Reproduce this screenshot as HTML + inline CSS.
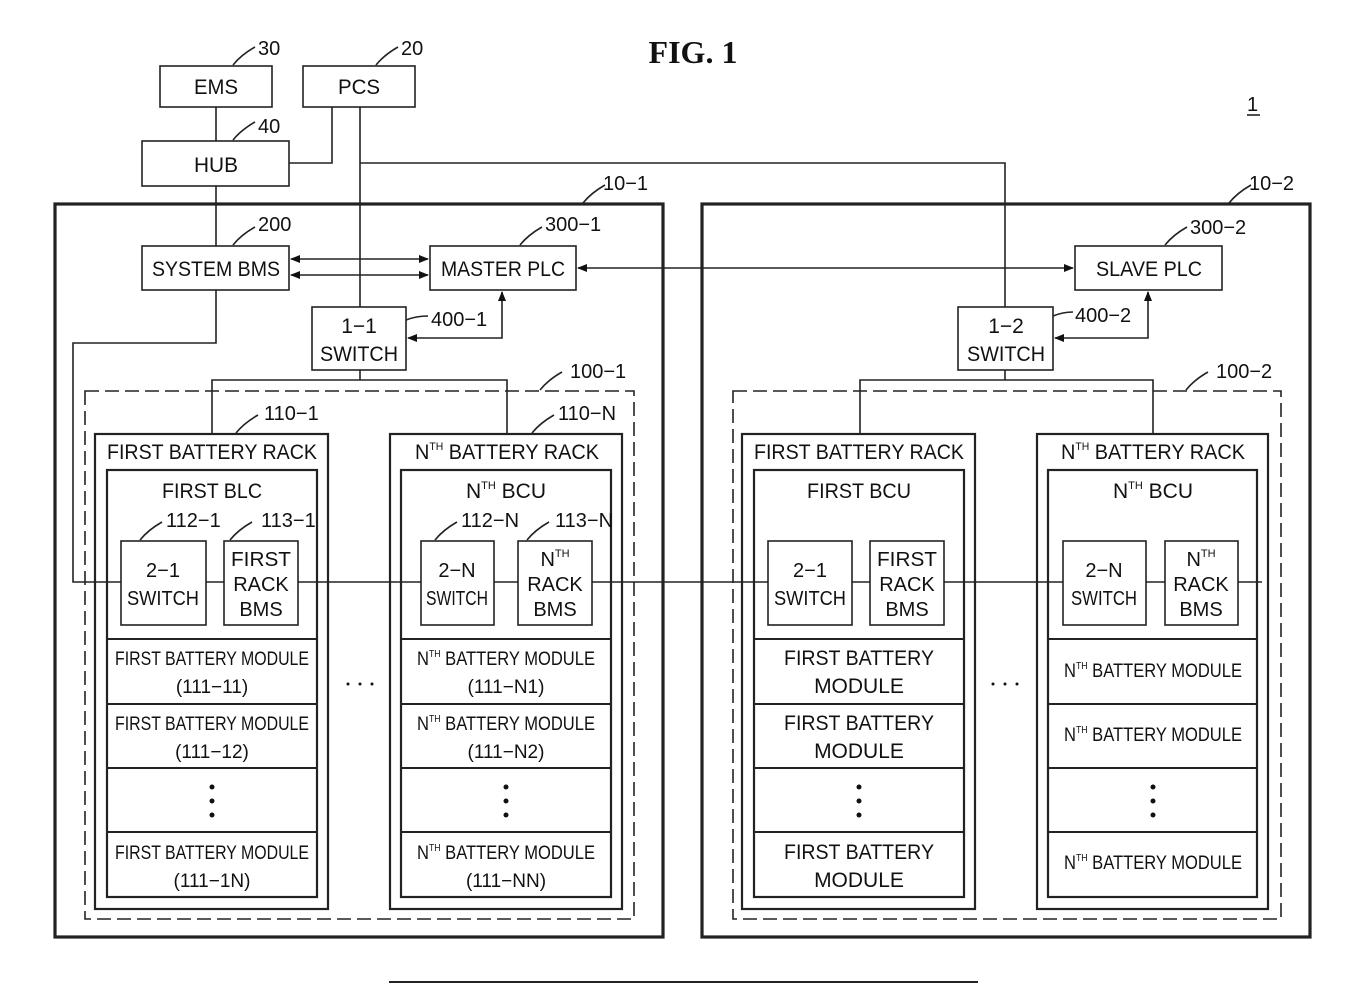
<!DOCTYPE html>
<html><head><meta charset="utf-8"><style>
html,body{margin:0;padding:0;background:#fff;}
svg{display:block;}
text{font-family:"Liberation Sans",sans-serif;fill:#111;}
</style></head><body>
<svg width="1369" height="997" viewBox="0 0 1369 997" xmlns="http://www.w3.org/2000/svg">
<defs>
<marker id="ah" markerWidth="10" markerHeight="8" refX="9" refY="4" orient="auto-start-reverse" markerUnits="userSpaceOnUse">
<path d="M0,0 L10,4 L0,8 Z" fill="#111"/></marker>
</defs>
<g stroke="#222" fill="none" stroke-width="1.6">
<rect x="160" y="66" width="112" height="41"/>
<rect x="303" y="66" width="112" height="41"/>
<rect x="142" y="141" width="147" height="45"/>
<line x1="216" y1="107" x2="216" y2="141"/>
<polyline points="332,107 332,163 289,163"/>
<line x1="360" y1="107" x2="360" y2="307"/>
<polyline points="360,163 1005,163 1005,307"/>
<line x1="216" y1="186" x2="216" y2="246"/>
<path d="M233,65 q8,-10 22,-18"/><path d="M376,65 q8,-10 22,-18"/>
<path d="M233,140 q8,-10 22,-18"/><path d="M233,245 q8,-10 22,-18"/>
<path d="M520,245 q8,-10 22,-18"/><path d="M1165,245 q8,-10 22,-18"/>
<path d="M583,203 q8,-10 22,-18"/><path d="M1229,203 q8,-10 22,-18"/>
<path d="M540,390 q8,-10 22,-18"/><path d="M1186,390 q8,-10 22,-18"/>
<path d="M236,433 q8,-10 22,-18"/><path d="M532,433 q8,-10 22,-18"/>
<path d="M140,540 q8,-10 22,-18"/><path d="M230,540 q8,-10 22,-18"/>
<path d="M435,540 q8,-10 22,-18"/><path d="M527,540 q8,-10 22,-18"/>
<path d="M406,320 q10,-4 22,-4"/><path d="M1053,316 q10,-4 20,-4"/>
<rect x="55" y="204" width="608" height="733" stroke-width="3.2"/>
<rect x="702" y="204" width="608" height="733" stroke-width="3.2"/>
<rect x="142" y="246" width="147" height="44"/>
<rect x="430" y="246" width="146" height="44"/>
<rect x="1075" y="246" width="147" height="44"/>
<line x1="291" y1="259" x2="428" y2="259" marker-start="url(#ah)" marker-end="url(#ah)"/>
<line x1="291" y1="275" x2="428" y2="275" marker-start="url(#ah)" marker-end="url(#ah)"/>
<line x1="578" y1="268" x2="1073" y2="268" marker-start="url(#ah)" marker-end="url(#ah)"/>
<rect x="312" y="307" width="94" height="63"/>
<rect x="958" y="307" width="95" height="63"/>
<polyline points="408,338 502,338 502,292" marker-start="url(#ah)" marker-end="url(#ah)"/>
<polyline points="1055,338 1148,338 1148,292" marker-start="url(#ah)" marker-end="url(#ah)"/>
<polyline points="216,290 216,343 73,343 73,582 1262,582"/>
<line x1="360" y1="370" x2="360" y2="380"/>
<polyline points="212,434 212,380 507,380 507,434"/>
<line x1="1005" y1="370" x2="1005" y2="380"/>
<polyline points="860,434 860,380 1153,380 1153,434"/>
<rect x="85" y="391" width="549" height="528" stroke-dasharray="14,6"/>
<rect x="733" y="391" width="548" height="528" stroke-dasharray="14,6"/>
<rect x="95" y="434" width="233" height="475" stroke-width="2.2"/>
<rect x="390" y="434" width="232" height="475" stroke-width="2.2"/>
<rect x="742" y="434" width="233" height="475" stroke-width="2.2"/>
<rect x="1037" y="434" width="231" height="475" stroke-width="2.2"/>
<rect x="107" y="470" width="210" height="427" stroke-width="2.2"/>
<rect x="401" y="470" width="210" height="427" stroke-width="2.2"/>
<rect x="754" y="470" width="210" height="427" stroke-width="2.2"/>
<rect x="1048" y="470" width="209" height="427" stroke-width="2.2"/>
<g stroke-width="2">
<path d="M107,639H317M107,704H317M107,768H317M107,832H317"/>
<path d="M401,639H611M401,704H611M401,768H611M401,832H611"/>
<path d="M754,639H964M754,704H964M754,768H964M754,832H964"/>
<path d="M1048,639H1257M1048,704H1257M1048,768H1257M1048,832H1257"/>
</g>
<g fill="#fff">
<rect x="121" y="541" width="85" height="84"/><rect x="224" y="541" width="74" height="84"/>
<rect x="421" y="541" width="73" height="84"/><rect x="518" y="541" width="74" height="84"/>
<rect x="768" y="541" width="84" height="84"/><rect x="870" y="541" width="74" height="84"/>
<rect x="1063" y="541" width="83" height="84"/><rect x="1165" y="541" width="73" height="84"/>
</g>
<line x1="389" y1="982" x2="978" y2="982" stroke-width="2"/>
<line x1="1247" y1="115" x2="1260" y2="115"/>
</g>
<g font-size="21" text-anchor="middle">
<text x="216" y="94" textLength="44" lengthAdjust="spacingAndGlyphs">EMS</text>
<text x="359" y="94" textLength="42" lengthAdjust="spacingAndGlyphs">PCS</text>
<text x="216" y="172" textLength="44" lengthAdjust="spacingAndGlyphs">HUB</text>
<text x="216" y="276" textLength="128" lengthAdjust="spacingAndGlyphs">SYSTEM BMS</text>
<text x="503" y="276" textLength="124" lengthAdjust="spacingAndGlyphs">MASTER PLC</text>
<text x="1149" y="276" textLength="106" lengthAdjust="spacingAndGlyphs">SLAVE PLC</text>
<text x="359" y="333">1−1</text><text x="359" y="361" textLength="78" lengthAdjust="spacingAndGlyphs">SWITCH</text>
<text x="1006" y="333">1−2</text><text x="1006" y="361" textLength="78" lengthAdjust="spacingAndGlyphs">SWITCH</text>
<text x="212" y="459" textLength="210" lengthAdjust="spacingAndGlyphs">FIRST BATTERY RACK</text>
<text x="507" y="459" textLength="184" lengthAdjust="spacingAndGlyphs">N<tspan font-size="11" dy="-9">TH</tspan><tspan dy="9"> BATTERY RACK</tspan></text>
<text x="859" y="459" textLength="210" lengthAdjust="spacingAndGlyphs">FIRST BATTERY RACK</text>
<text x="1153" y="459" textLength="184" lengthAdjust="spacingAndGlyphs">N<tspan font-size="11" dy="-9">TH</tspan><tspan dy="9"> BATTERY RACK</tspan></text>
<text x="212" y="498" textLength="100" lengthAdjust="spacingAndGlyphs">FIRST BLC</text>
<text x="506" y="498">N<tspan font-size="11" dy="-9">TH</tspan><tspan dy="9"> BCU</tspan></text>
<text x="859" y="498" textLength="104" lengthAdjust="spacingAndGlyphs">FIRST BCU</text>
<text x="1153" y="498">N<tspan font-size="11" dy="-9">TH</tspan><tspan dy="9"> BCU</tspan></text>
</g>
<g font-size="20" text-anchor="middle">
<text x="163" y="577">2−1</text><text x="163" y="605" textLength="72" lengthAdjust="spacingAndGlyphs">SWITCH</text>
<text x="261" y="566" textLength="60" lengthAdjust="spacingAndGlyphs">FIRST</text><text x="261" y="591">RACK</text><text x="261" y="616">BMS</text>
<text x="457" y="577">2−N</text><text x="457" y="605" textLength="62" lengthAdjust="spacingAndGlyphs">SWITCH</text>
<text x="555" y="566">N<tspan font-size="11" dy="-9">TH</tspan></text><text x="555" y="591">RACK</text><text x="555" y="616">BMS</text>
<text x="810" y="577">2−1</text><text x="810" y="605" textLength="72" lengthAdjust="spacingAndGlyphs">SWITCH</text>
<text x="907" y="566" textLength="60" lengthAdjust="spacingAndGlyphs">FIRST</text><text x="907" y="591">RACK</text><text x="907" y="616">BMS</text>
<text x="1104" y="577">2−N</text><text x="1104" y="605" textLength="66" lengthAdjust="spacingAndGlyphs">SWITCH</text>
<text x="1201" y="566">N<tspan font-size="11" dy="-9">TH</tspan></text><text x="1201" y="591">RACK</text><text x="1201" y="616">BMS</text>
</g>
<g font-size="19" text-anchor="middle">
<text x="212" y="665" textLength="194" lengthAdjust="spacingAndGlyphs">FIRST BATTERY MODULE</text><text x="212" y="693">(111−11)</text>
<text x="212" y="730" textLength="194" lengthAdjust="spacingAndGlyphs">FIRST BATTERY MODULE</text><text x="212" y="758">(111−12)</text>
<text x="212" y="859" textLength="194" lengthAdjust="spacingAndGlyphs">FIRST BATTERY MODULE</text><text x="212" y="887">(111−1N)</text>
<text x="506" y="665" textLength="178" lengthAdjust="spacingAndGlyphs">N<tspan font-size="10" dy="-8">TH</tspan><tspan dy="8"> BATTERY MODULE</tspan></text><text x="506" y="693">(111−N1)</text>
<text x="506" y="730" textLength="178" lengthAdjust="spacingAndGlyphs">N<tspan font-size="10" dy="-8">TH</tspan><tspan dy="8"> BATTERY MODULE</tspan></text><text x="506" y="758">(111−N2)</text>
<text x="506" y="859" textLength="178" lengthAdjust="spacingAndGlyphs">N<tspan font-size="10" dy="-8">TH</tspan><tspan dy="8"> BATTERY MODULE</tspan></text><text x="506" y="887">(111−NN)</text>
<text x="1153" y="677" textLength="178" lengthAdjust="spacingAndGlyphs">N<tspan font-size="10" dy="-8">TH</tspan><tspan dy="8"> BATTERY MODULE</tspan></text>
<text x="1153" y="741" textLength="178" lengthAdjust="spacingAndGlyphs">N<tspan font-size="10" dy="-8">TH</tspan><tspan dy="8"> BATTERY MODULE</tspan></text>
<text x="1153" y="869" textLength="178" lengthAdjust="spacingAndGlyphs">N<tspan font-size="10" dy="-8">TH</tspan><tspan dy="8"> BATTERY MODULE</tspan></text>
</g>
<g font-size="21" text-anchor="middle">
<text x="859" y="665" textLength="150" lengthAdjust="spacingAndGlyphs">FIRST BATTERY</text><text x="859" y="693">MODULE</text>
<text x="859" y="730" textLength="150" lengthAdjust="spacingAndGlyphs">FIRST BATTERY</text><text x="859" y="758">MODULE</text>
<text x="859" y="859" textLength="150" lengthAdjust="spacingAndGlyphs">FIRST BATTERY</text><text x="859" y="887">MODULE</text>
</g>
<g fill="#111">
<circle cx="212" cy="787" r="2.5"/><circle cx="212" cy="801" r="2.5"/><circle cx="212" cy="815" r="2.5"/>
<circle cx="506" cy="787" r="2.5"/><circle cx="506" cy="801" r="2.5"/><circle cx="506" cy="815" r="2.5"/>
<circle cx="859" cy="787" r="2.5"/><circle cx="859" cy="801" r="2.5"/><circle cx="859" cy="815" r="2.5"/>
<circle cx="1153" cy="787" r="2.5"/><circle cx="1153" cy="801" r="2.5"/><circle cx="1153" cy="815" r="2.5"/>
<circle cx="348" cy="684" r="1.5"/><circle cx="360" cy="684" r="1.5"/><circle cx="372" cy="684" r="1.5"/>
<circle cx="993" cy="684" r="1.5"/><circle cx="1005" cy="684" r="1.5"/><circle cx="1017" cy="684" r="1.5"/>
</g>
<g font-size="20">
<text x="258" y="55">30</text><text x="401" y="55">20</text><text x="258" y="133">40</text>
<text x="258" y="231">200</text><text x="545" y="231">300−1</text><text x="1190" y="234">300−2</text>
<text x="603" y="190">10−1</text><text x="1249" y="190">10−2</text>
<text x="431" y="326">400−1</text><text x="1075" y="322">400−2</text>
<text x="570" y="378">100−1</text><text x="1216" y="378">100−2</text>
<text x="264" y="420">110−1</text><text x="558" y="420">110−N</text>
<text x="166" y="527">112−1</text><text x="261" y="527">113−1</text>
<text x="461" y="527">112−N</text><text x="555" y="527">113−N</text>
<text x="1247" y="111">1</text>
</g>
<text x="693" y="63" text-anchor="middle" font-weight="bold" font-size="32" style="font-family:'Liberation Serif',serif">FIG.  1</text>
</svg>
</body></html>
